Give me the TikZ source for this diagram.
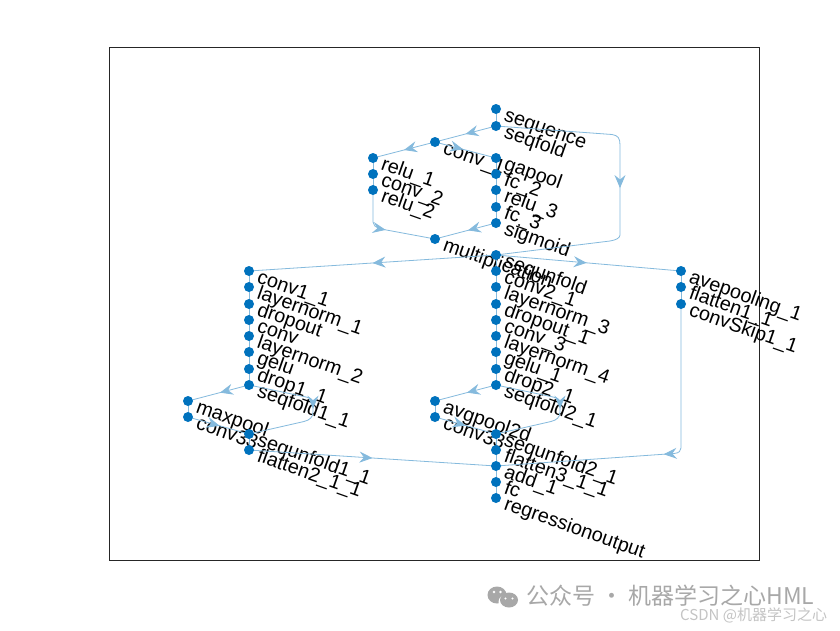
\documentclass[tikz,border=0pt]{standalone}
\usepackage{fontspec}
\setmainfont{Liberation Sans}
\newfontfamily\cjkfont{Noto Sans CJK SC}
\usetikzlibrary{arrows.meta,decorations.markings}
\definecolor{dotblue}{HTML}{0072BD}
\definecolor{edgeblue}{HTML}{85BADD}
\definecolor{wmgray}{HTML}{A8A8A8}
\definecolor{wmlight}{HTML}{C4C4C4}
\tikzset{
  dot/.style={circle,fill=dotblue,draw=none,minimum size=10pt,inner sep=0pt},
  lab/.style={anchor=base west,rotate=-19.5,inner sep=0pt,font=\fontsize{19.8}{20}\selectfont,text=black},
  edge/.style={draw=edgeblue,line width=0.8pt},
  midarrow/.style={edge,postaction={decorate},decoration={markings,mark=at position #1 with {\arrow[edgeblue]{Stealth[length=13pt,width=11pt,inset=4.5pt]}}}},
  frame/.style={draw=black!85,line width=0.6pt},
  wm/.style={font=\cjkfont\fontsize{23}{24}\selectfont,text=wmgray,anchor=west,inner sep=0pt},
  wmb/.style={font=\cjkfont\fontsize{15}{16}\selectfont,text=wmlight,anchor=west,inner sep=0pt},
}
\newcommand{\gnode}[4]{%
  \node[lab] (#1-l) at (#2+7,#3+11) {#4};
  \coordinate (#1) at (#2,#3);
}
\begin{document}
\begin{tikzpicture}[x=1pt,y=-1pt]
\useasboundingbox (0,0) rectangle (840,630);
\fill[white] (0,0) rectangle (840,630);
\draw[frame] (109,47) rectangle (759,560);
% bends of the routed edges
\coordinate (ra) at (620,145);
\coordinate (rb) at (620,235);
\coordinate (la) at (373,222);
\coordinate (sa) at (681,448);
% labels and anchor points
\gnode{sequence}{496}{109}{sequence}
\gnode{seqfold}{496}{126}{seqfold}
\gnode{conv1}{435}{142}{conv\_1}
\gnode{relu1}{373}{158}{relu\_1}
\gnode{conv2}{373}{174}{conv\_2}
\gnode{relu2}{373}{190}{relu\_2}
\gnode{gapool}{496}{158}{gapool}
\gnode{fc2}{496}{174}{fc\_2}
\gnode{relu3}{496}{190}{relu\_3}
\gnode{fc3}{496}{207}{fc\_3}
\gnode{sigmoid}{496}{223}{sigmoid}
\gnode{mult}{435}{239}{multiplication}
\gnode{sequnfold}{496}{255}{sequnfold}
\gnode{convOne}{249}{271}{conv1\_1}
\gnode{lnOne}{249}{287}{layernorm\_1}
\gnode{dropout}{249}{304}{dropout}
\gnode{conv}{249}{320}{conv}
\gnode{lnTwo}{249}{336}{layernorm\_2}
\gnode{gelu}{249}{352}{gelu}
\gnode{dropOne}{249}{369}{drop1\_1}
\gnode{sfOne}{249}{385}{seqfold1\_1}
\gnode{maxpool}{188}{401}{maxpool}
\gnode{cvA}{188}{417}{conv33}
\gnode{suOne}{249}{434}{sequnfold1\_1}
\gnode{flTwo}{249}{450}{flatten2\_1\_1}
\gnode{convTwo}{496}{271}{conv2\_1}
\gnode{lnThree}{496}{287}{layernorm\_3}
\gnode{dropoutOne}{496}{304}{dropout\_1}
\gnode{convThree}{496}{320}{conv\_3}
\gnode{lnFour}{496}{336}{layernorm\_4}
\gnode{geluOne}{496}{352}{gelu\_1}
\gnode{dropTwo}{496}{369}{drop2\_1}
\gnode{sfTwo}{496}{385}{seqfold2\_1}
\gnode{avgpool}{435}{401}{avgpool2d}
\gnode{cvB}{435}{417}{conv33}
\gnode{suTwo}{496}{434}{sequnfold2\_1}
\gnode{flThree}{496}{450}{flatten3\_1\_1}
\gnode{add}{496}{466}{add\_1}
\gnode{fc}{496}{482}{fc}
\gnode{regr}{496}{498}{regressionoutput}
\gnode{avep}{681}{271}{avepooling\_1}
\gnode{flOne}{681}{287}{flatten1\_1}
\gnode{skip}{681}{304}{convSkip1\_1}
% edges
\foreach \a/\b in {sequence/seqfold,relu1/conv2,conv2/relu2,gapool/fc2,fc2/relu3,relu3/fc3,fc3/sigmoid,
  sequnfold/convTwo,convOne/lnOne,lnOne/dropout,dropout/conv,conv/lnTwo,lnTwo/gelu,gelu/dropOne,dropOne/sfOne,
  maxpool/cvA,suOne/flTwo,convTwo/lnThree,lnThree/dropoutOne,dropoutOne/convThree,convThree/lnFour,lnFour/geluOne,
  geluOne/dropTwo,dropTwo/sfTwo,avgpool/cvB,suTwo/flThree,flThree/add,add/fc,fc/regr,avep/flOne,flOne/skip}
  \draw[edge] (\a) -- (\b);
\draw[midarrow=.5] (seqfold) -- (conv1);
\draw[midarrow=.5] (conv1) -- (relu1);
\draw[midarrow=.46] (conv1) -- (gapool);
\draw[midarrow=.46] (sigmoid) -- (mult);
\draw[midarrow=.5] (sequnfold) -- (convOne);
\draw[midarrow=.49] (sequnfold) -- (avep);
\draw[midarrow=.475] (sfOne) -- (maxpool);
\draw[midarrow=.52] (cvA) -- (suOne);
\draw[midarrow=.5] (flTwo) -- (add);
\draw[midarrow=.475] (sfTwo) -- (avgpool);
\draw[midarrow=.5] (cvB) -- (suTwo);
\draw[midarrow=.5] (seqfold) -- (612,134.5) .. controls (618,135.5) and (620,138) .. (ra) -- (rb) .. controls (620,238) and (616,240) .. (610,241) -- (sequnfold);
\draw[midarrow=.49] (relu2) -- (la) .. controls (373,225) and (375,227) .. (381,229) -- (mult);
\draw[midarrow=.5] (sfOne) -- (306,397) .. controls (311,398) and (313,400) .. (313,403) -- (313,412) .. controls (313,417) and (310,420) .. (304,421.5) -- (suOne);
\draw[midarrow=.5] (sfTwo) -- (553,397) .. controls (558,398) and (560,400) .. (560,403) -- (560,412) .. controls (560,417) and (557,420) .. (551,421.5) -- (suTwo);
\draw[midarrow=.494] (skip) -- (sa) .. controls (681,451) and (679,453) .. (674,453.5) -- (add);
% graph nodes above the edges
\foreach \n/\m in {sequence/a,seqfold/b,conv1/c,relu1/d,conv2/e,relu2/f,gapool/g,fc2/h,relu3/i,fc3/j,sigmoid/k,mult/l,sequnfold/m,convOne/n,lnOne/o,dropout/p,conv/q,lnTwo/r,gelu/s,dropOne/t,sfOne/u,maxpool/v,cvA/w,suOne/x,flTwo/y,convTwo/z,lnThree/aa,dropoutOne/ab,convThree/ac,lnFour/ad,geluOne/ae,dropTwo/af,sfTwo/ag,avgpool/ah,cvB/ai,suTwo/aj,flThree/ak,add/al,fc/am,regr/an,avep/ao,flOne/ap,skip/aq}
  \node[dot] (dot-\m) at (\n) {};
% watermark
\fill[wmgray] (497,595) ellipse (9.5pt and 8.5pt);
\fill[white] (507.5,602) ellipse (9pt and 8pt);
\fill[wmgray] (509,600) ellipse (9pt and 7.5pt);
\fill[white] (494,592) circle (1.3pt) (500.5,592) circle (1.3pt) (505.5,598.5) circle (1.1pt) (512.5,598.5) circle (1.1pt);
\node[wm] (wmtext) at (526,596) {公众号 · 机器学习之心HML};
\node[wmb] (wmsub) at (680,615) {CSDN @机器学习之心};
\end{tikzpicture}
\end{document}
